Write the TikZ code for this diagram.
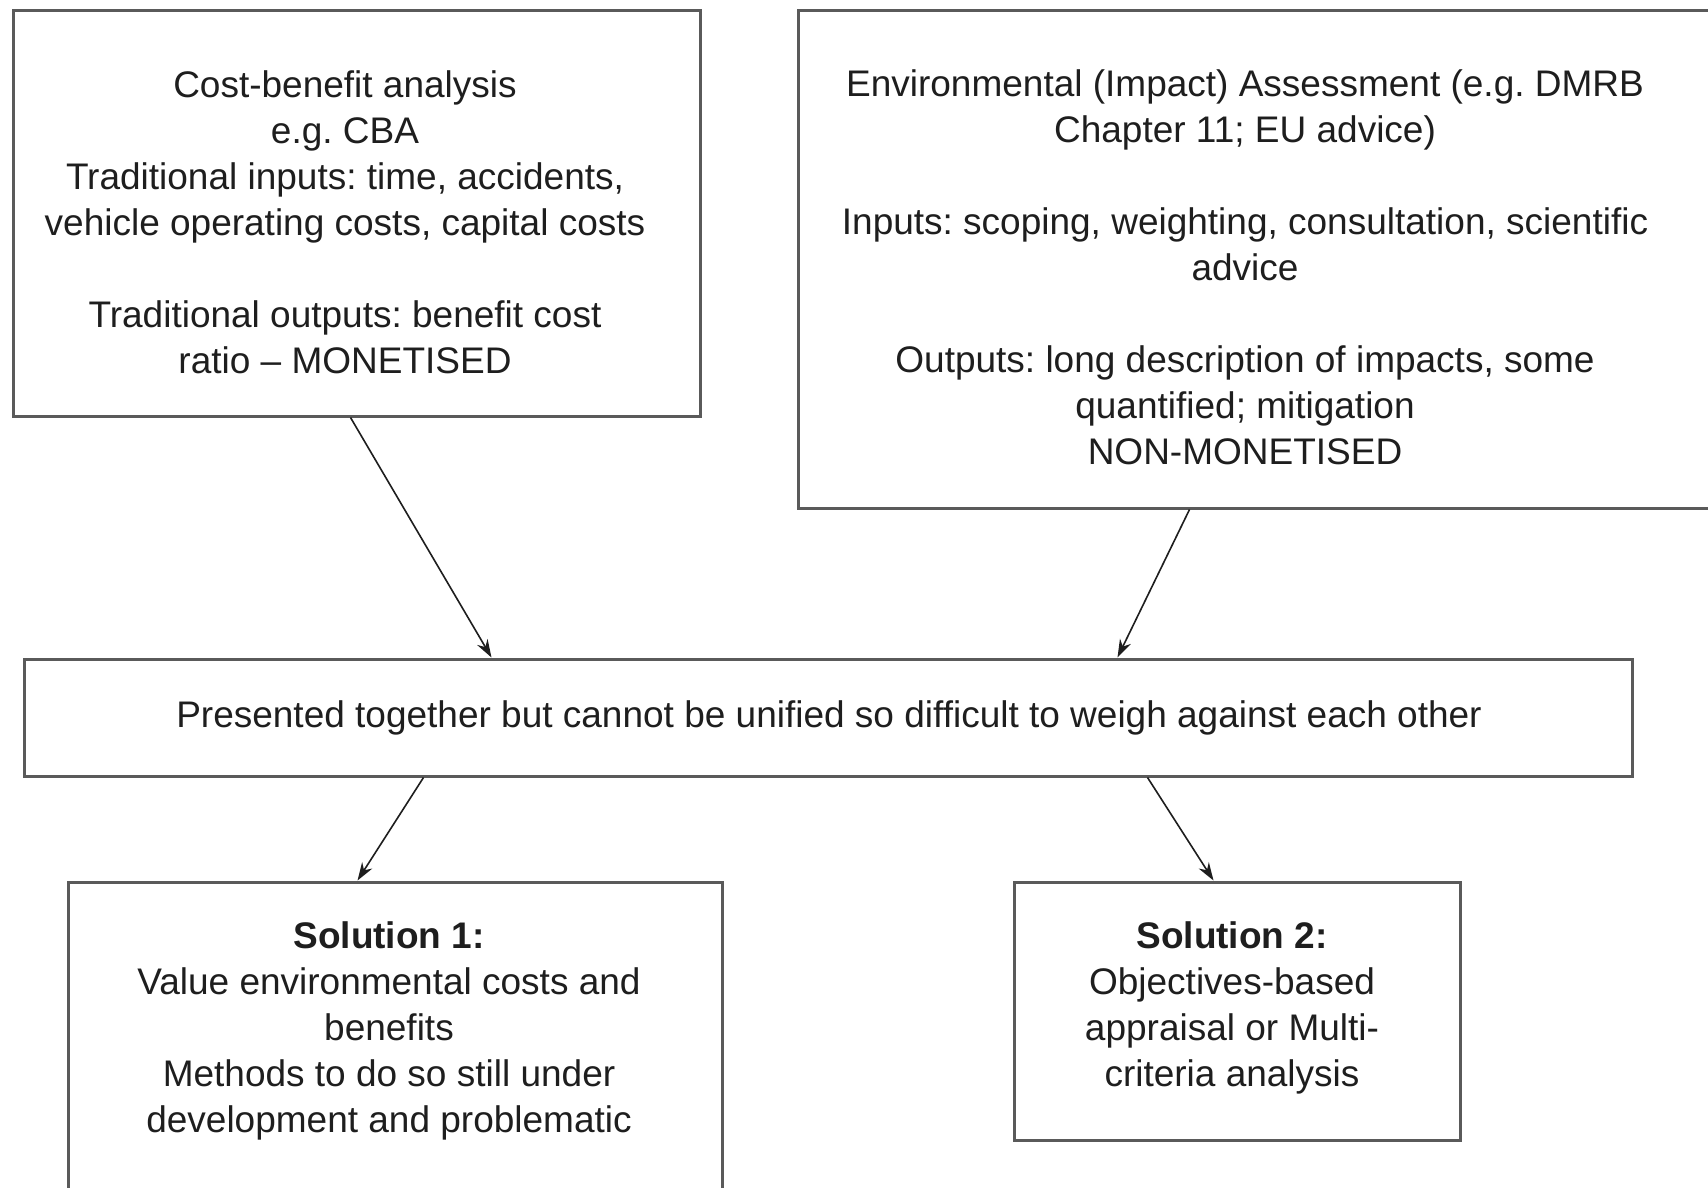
\documentclass[tikz,border=0pt]{standalone}
\usepackage{fontspec}
\setmainfont{Liberation Sans}
\usetikzlibrary{arrows.meta}
\definecolor{boxline}{RGB}{90,90,90}
\definecolor{txtcol}{RGB}{30,30,30}
\frenchspacing
\begin{document}
\begin{tikzpicture}[x=1pt,y=-1pt,
  box/.style={draw=boxline, line width=3pt, inner sep=0pt, fill=white},
  txt/.style={align=center, inner sep=0pt, text=txtcol, font=\fontsize{37}{46}\selectfont},
  conn/.style={line width=1.6pt, draw=txtcol, -{Stealth[length=18pt,width=12pt]}}]
\useasboundingbox[fill=white] (0,0) rectangle (1708,1188);

\node[box, minimum width=687pt, minimum height=405pt] (b1) at (356.5,213.5) {};
\node[txt] (b1t) at (345,222) {Cost-benefit analysis\\ e.g. CBA\\ Traditional inputs: time, accidents,\\ vehicle operating costs, capital costs\\[46pt] Traditional outputs: benefit cost\\ ratio -- MONETISED};

\node[box, minimum width=914pt, minimum height=497pt] (b2) at (1255,259.5) {};
\node[txt] (b2t) at (1245,267) {Environmental (Impact) Assessment (e.g. DMRB\\ Chapter 11; EU advice)\\[46pt] Inputs: scoping, weighting, consultation, scientific\\ advice\\[46pt] Outputs: long description of impacts, some\\ quantified; mitigation\\ NON-MONETISED};

\node[box, minimum width=1608pt, minimum height=117pt] (m) at (828,717.5) {};
\node[txt] (mt) at (829,718) {Presented together but cannot be unified so difficult to weigh against each other};

\node[box, minimum width=654pt, minimum height=318pt] (s1) at (395,1041) {};
\node[txt] (s1t) at (389,1031) {\textbf{Solution 1:}\\ Value environmental costs and\\ benefits\\ Methods to do so still under\\ development and problematic};

\node[box, minimum width=446pt, minimum height=258pt] (s2) at (1237,1011) {};
\node[txt] (s2t) at (1232,1008) {\textbf{Solution 2:}\\ Objectives-based\\ appraisal or Multi-\\ criteria analysis};

\draw[conn] ([xshift=339pt]b1.south west) -- ([xshift=469pt]m.north west);
\draw[conn] ([xshift=393pt]b2.south west) -- ([xshift=1095pt]m.north west);
\draw[conn] ([xshift=401pt]m.south west) -- ([xshift=291pt]s1.north west);
\draw[conn] ([xshift=1125pt]m.south west) -- ([xshift=201pt]s2.north west);
\end{tikzpicture}
\end{document}
